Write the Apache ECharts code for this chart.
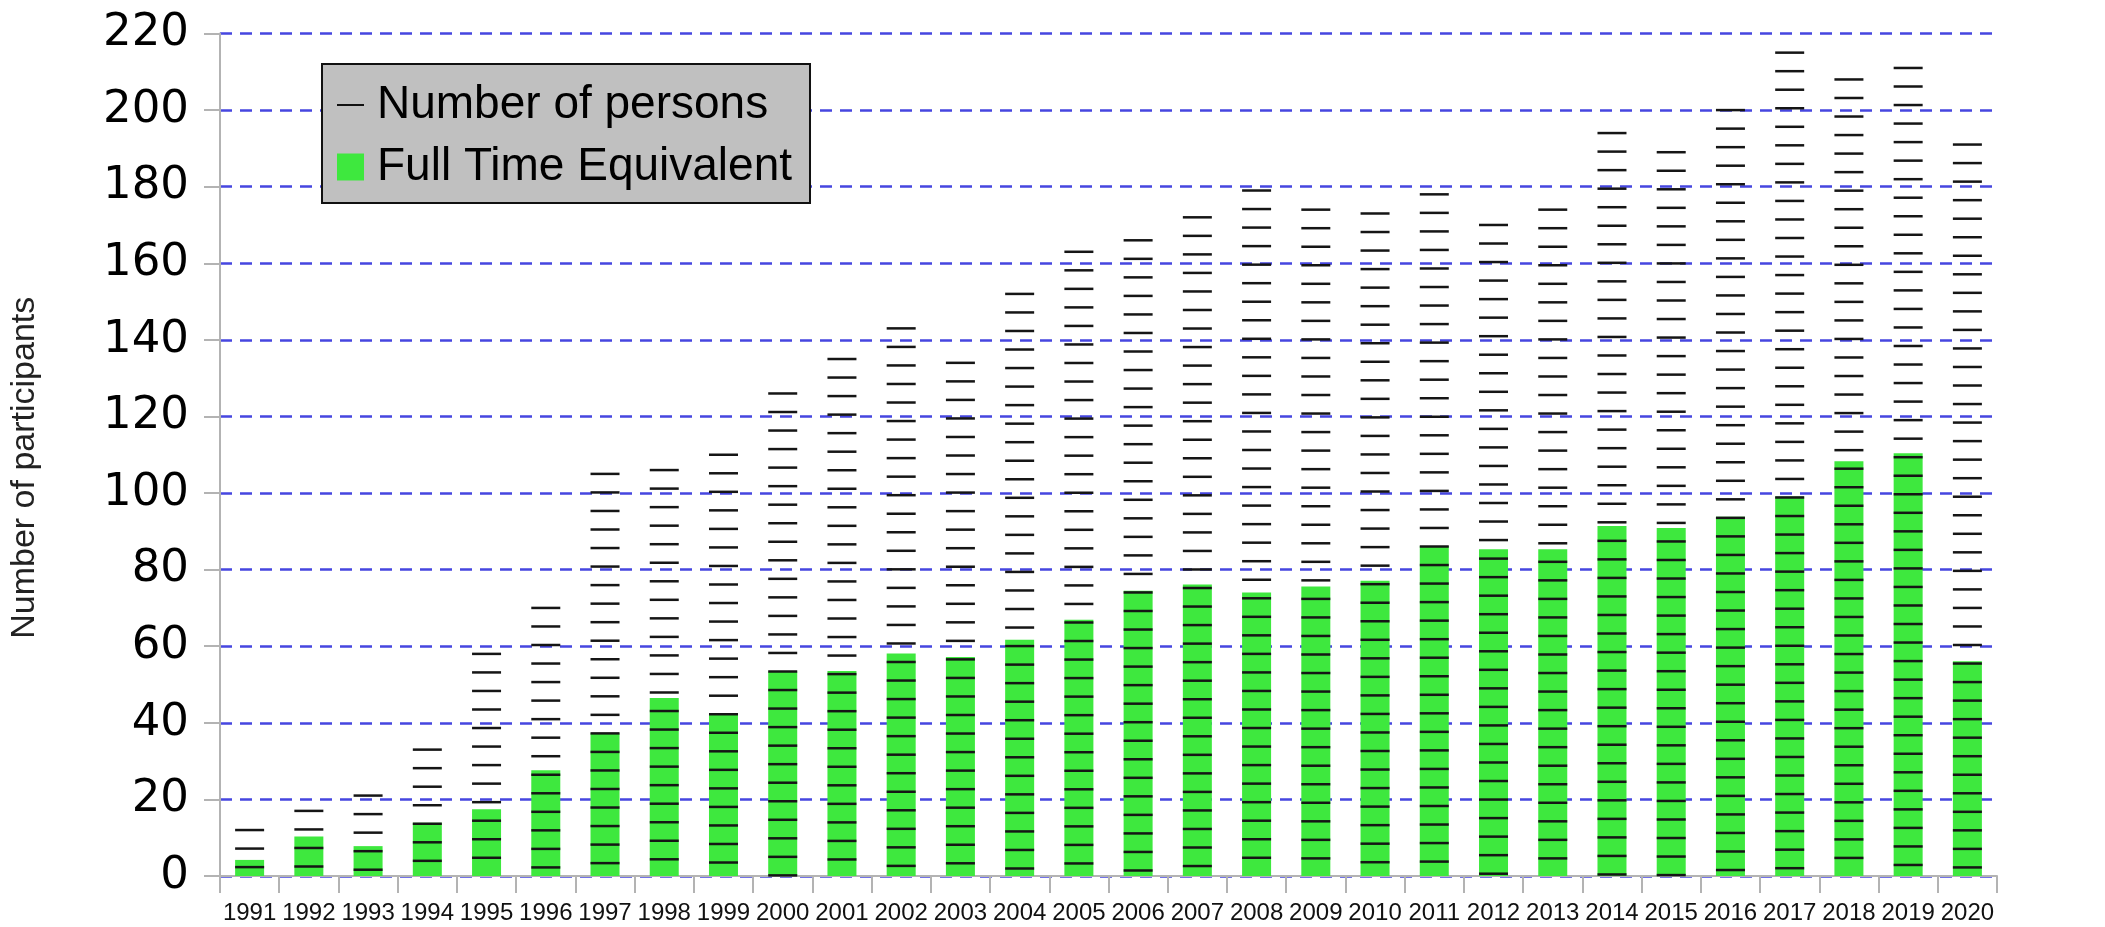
<!DOCTYPE html>
<html>
<head>
<meta charset="utf-8">
<title>Participants</title>
<script src="https://cdn.jsdelivr.net/npm/echarts@6/dist/echarts.min.js"></script>
<style>
  html, body { margin: 0; padding: 0; background: #fff; }
  #chart { width: 2105px; height: 927px; }
</style>
</head>
<body>
<div id="chart"></div>
<script>
// categories
const years = ['1991', '1992', '1993', '1994', '1995', '1996', '1997', '1998', '1999', '2000',
  '2001', '2002', '2003', '2004', '2005', '2006', '2007', '2008', '2009', '2010',
  '2011', '2012', '2013', '2014', '2015', '2016', '2017', '2018', '2019', '2020']

// number of persons (top of the dash column)
const persons = [12, 17, 21, 33, 58, 70, 105, 106, 110, 126,
  135, 143, 134, 152, 163, 166, 172, 179, 174, 173,
  178, 170, 174, 194, 189, 200, 215, 208, 211, 191]

// full time equivalent
const fte = [4.2, 10.3, 7.8, 13.9, 17.4, 27.6, 37.3, 46.5, 42.4, 53.4,
  53.5, 58.1, 57.2, 61.7, 66.9, 74.5, 76.1, 74.0, 75.6, 77.1,
  86.2, 85.3, 85.3, 91.4, 90.9, 93.8, 99.1, 108.3, 110.4, 56.1]

const DASH_STEP = 4.84  // spacing of the hatch dashes, in axis units
const BAR_W = 29
const GREEN = '#3ee83e'

const chart = echarts.init(document.getElementById('chart'))

const option = {
  animation: false,
  backgroundColor: '#fff',
  grid: {
    left: 220,
    right: 108,
    top: 33.5,
    bottom: 51,
    containLabel: false,
    outerBoundsMode: 'none'
  },
  legend: {
    left: 322,
    top: 64,
    orient: 'vertical',
    backgroundColor: '#c0c0c0',
    borderColor: '#111',
    borderWidth: 2,
    borderRadius: 0,
    padding: [16, 18, 11, 15],
    itemWidth: 27,
    itemHeight: 27,
    itemGap: 12,
    selectedMode: false,
    textStyle: {
      fontFamily: 'Liberation Sans',
      fontSize: 46,
      lineHeight: 50,
      color: '#000',
      padding: [0, 0, 0, 8]
    },
    data: [
      { name: 'Number of persons', icon: 'path://M0,0H27V2H0Z', itemStyle: { color: '#111' } },
      { name: 'Full Time Equivalent', icon: 'rect', itemStyle: { color: GREEN } }
    ]
  },
  xAxis: {
    type: 'category',
    data: years,
    boundaryGap: true,
    axisLine: { lineStyle: { color: '#b3b3b3', width: 2 } },
    axisTick: { show: true, length: 17, lineStyle: { color: '#b3b3b3', width: 2 } },
    axisLabel: {
      interval: 0,
      margin: 25,
      fontFamily: 'Liberation Sans',
      fontSize: 24,
      color: '#111'
    },
    splitLine: { show: false }
  },
  yAxis: {
    type: 'value',
    min: 0,
    max: 220,
    interval: 20,
    name: 'Number of participants',
    nameLocation: 'middle',
    nameGap: 178,
    // right padding nudges the rotated title a little downwards
    nameTextStyle: { fontFamily: 'Liberation Sans', fontSize: 34, color: '#222', padding: [0, 26, 0, 0] },
    axisLine: { show: true, lineStyle: { color: '#b3b3b3', width: 2 } },
    axisTick: { show: true, length: 16, lineStyle: { color: '#b3b3b3', width: 2 } },
    axisLabel: {
      margin: 31,
      fontFamily: 'DejaVu Sans',
      fontSize: 45,
      color: '#000'
    },
    splitLine: {
      show: true,
      lineStyle: { color: '#4646e0', width: 2.5, type: [12, 8] }
    }
  },
  series: [
    {
      name: 'Full Time Equivalent',
      type: 'bar',
      data: fte,
      barWidth: BAR_W,
      itemStyle: { color: GREEN }
    },
    {
      name: 'Number of persons',
      type: 'custom',
      data: persons.map((v, i) => [i, v]),
      encode: { x: 0, y: 1 },
      z: 5,
      renderItem: function (params, api) {
        const idx = api.value(0)
        const top = api.value(1)
        const children = []
        for (let v = top; v >= 0; v -= DASH_STEP) {
          const p = api.coord([idx, v])
          children.push({
            type: 'rect',
            shape: { x: p[0] - BAR_W / 2, y: p[1] - 1.25, width: BAR_W, height: 2.5 },
            style: { fill: '#151515' }
          })
        }
        return { type: 'group', children: children }
      }
    }
  ]
}

chart.setOption(option)
</script>
</body>
</html>
